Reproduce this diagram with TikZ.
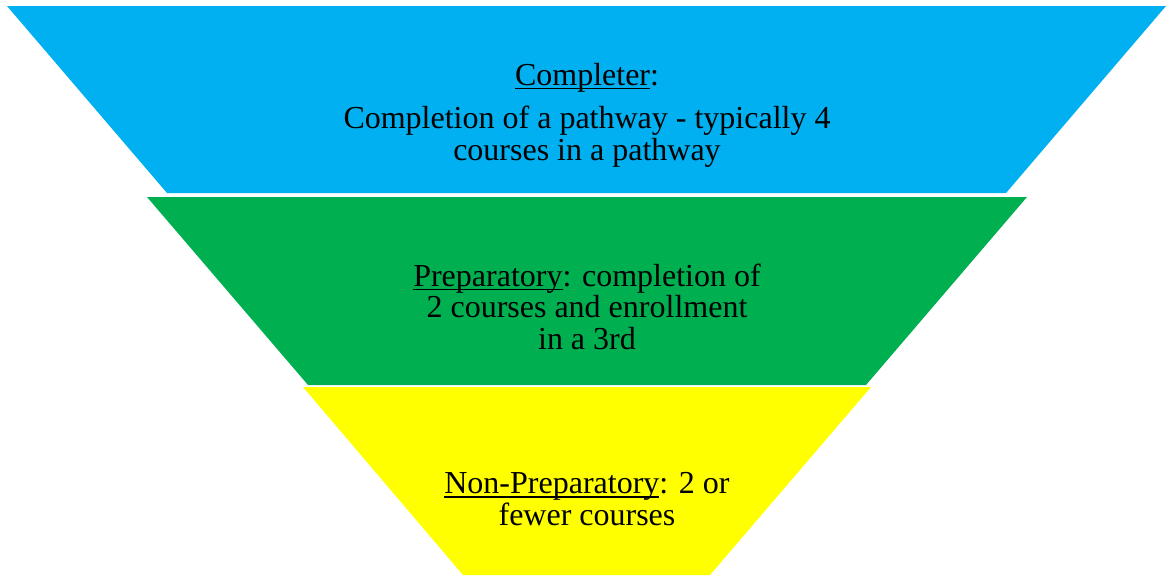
\documentclass[tikz,border=0pt]{standalone}
\usepackage{fontspec}
\setmainfont{Liberation Serif}
\definecolor{tierblue}{HTML}{00B0F0}
\definecolor{tiergreen}{HTML}{00B050}
\definecolor{tieryellow}{HTML}{FFFF00}
\newcommand\ulword[1]{\setbox0\hbox{#1}\rlap{\rule[-4pt]{\wd0}{1.3pt}}\box0}
\begin{document}
\begin{tikzpicture}[x=1pt,y=-1pt,
  tier/.style={draw=none},
  lbl/.style={align=center,inner sep=0pt,font=\fontsize{32}{31.5}\selectfont,anchor=base}]
\useasboundingbox (0,0) rectangle (1168,576);
\fill[tierblue] (7,6) -- (1166,6) -- (1006,193) -- (167,193) -- cycle;
\fill[tiergreen] (147,197) -- (1027,197) -- (866,385) -- (308,385) -- cycle;
\fill[tieryellow] (303,387) -- (871,387) -- (710,575) -- (463,575) -- cycle;
\node[lbl] (t1) at (587,85) {\ulword{Completer}:};
\node[lbl] (t2) at (587,160) {Completion of a pathway - typically 4\\courses in a pathway};
\node[lbl] (t3) at (587,349) {\ulword{Preparatory}: completion of\\2 courses and enrollment\\in a 3rd};
\node[lbl] (t4) at (587,525) {\ulword{Non-Preparatory}: 2 or\\fewer courses};
\end{tikzpicture}
\end{document}
